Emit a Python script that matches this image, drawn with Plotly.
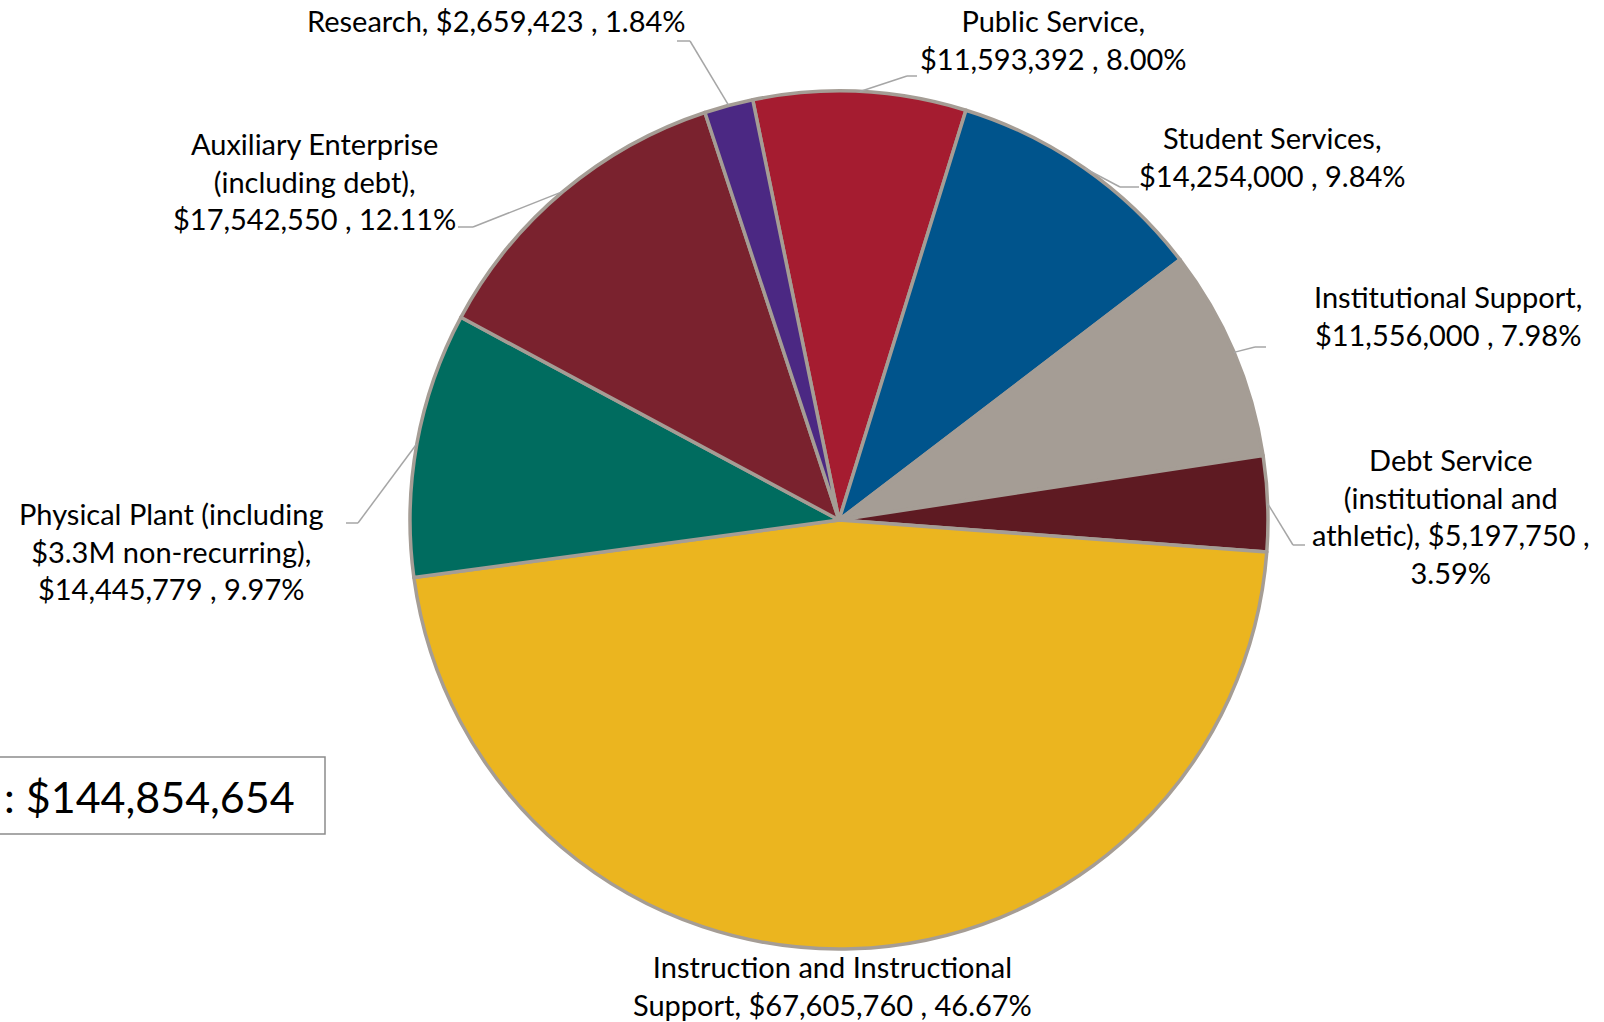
import math
import plotly.graph_objects as go

categories = [
    "Public Service",
    "Student Services",
    "Institutional Support",
    "Debt Service (institutional and athletic)",
    "Instruction and Instructional Support",
    "Physical Plant (including $3.3M non-recurring)",
    "Auxiliary Enterprise (including debt)",
    "Research",
]
values = [11593392, 14254000, 11556000, 5197750, 67605760, 14445779, 17542550, 2659423]
label_texts = [
    "Public Service,<br>$11,593,392 , 8.00%",
    "Student Services,<br>$14,254,000 , 9.84%",
    "Institutional Support,<br>$11,556,000 , 7.98%",
    "Debt Service<br>(institutional and<br>athletic), $5,197,750 ,<br>3.59%",
    "Instruction and Instructional<br>Support, $67,605,760 , 46.67%",
    "Physical Plant (including<br>$3.3M non-recurring),<br>$14,445,779 , 9.97%",
    "Auxiliary Enterprise<br>(including debt),<br>$17,542,550 , 12.11%",
    "Research, $2,659,423 , 1.84%",
]
colors = ["#A51C30", "#00548C", "#A59D95", "#5E1A22", "#EBB51F", "#006C5F", "#7A222E", "#4B2883"]
total_text = ": $144,854,654"

W, H = 1604, 1022
CX, CY, R = 839, 520, 429
ROT = -11.6

# label block centres and leader elbows/ends (pixels)
label_pos = [(1053, 39), (1272, 157), (1448, 315), (1451, 516), (832, 985), (171, 551), (314, 181), (496, 21)]
leaders = [
    [(907, 76), (917, 76)],
    [(1120, 187), (1139, 187)],
    [(1255, 347), (1266, 347)],
    [(1293, 545), (1305, 545)],
    None,
    [(358, 523), (346, 523)],
    [(473, 227), (458, 227)],
    [(690, 41), (677, 41)],
]

def px(x, y):
    return x / W, 1 - y / H

fig = go.Figure()
fig.add_trace(go.Pie(
    labels=categories, values=values, sort=False, direction="clockwise",
    rotation=ROT, textinfo="none", hoverinfo="label+value+percent",
    marker=dict(colors=colors, line=dict(color="#A59D95", width=3.5)),
    domain=dict(x=[(CX - R) / W, (CX + R) / W], y=[1 - (CY + R) / H, 1 - (CY - R) / H]),
    showlegend=False,
))

total = sum(values)
cum = 0.0
shapes = []
annotations = []
for i, v in enumerate(values):
    mid = ROT + (cum + v / 2) / total * 360
    cum += v
    a = math.radians(mid)
    sx, sy = CX + R * math.sin(a), CY - R * math.cos(a)
    if leaders[i]:
        pts = [(sx, sy)] + leaders[i]
        for (x0, y0), (x1, y1) in zip(pts[:-1], pts[1:]):
            X0, Y0 = px(x0, y0)
            X1, Y1 = px(x1, y1)
            shapes.append(dict(type="line", xref="paper", yref="paper", x0=X0, y0=Y0, x1=X1, y1=Y1,
                               line=dict(color="#A6A6A6", width=1.5)))
    lx, ly = px(*label_pos[i])
    annotations.append(dict(x=lx, y=ly, xref="paper", yref="paper", text=label_texts[i],
                            showarrow=False, xanchor="center", yanchor="middle", align="center",
                            font=dict(family="Lato", size=29, color="#000000")))

# total box
bx0, by0 = px(-5, 757)
bx1, by1 = px(325, 834)
shapes.append(dict(type="rect", xref="paper", yref="paper", x0=bx0, y0=by0, x1=bx1, y1=by1,
                   line=dict(color="#8C8C8C", width=1.5), fillcolor="white", layer="below"))
tx, ty = px(2, 796)
annotations.append(dict(x=tx, y=ty, xref="paper", yref="paper", text=total_text, showarrow=False,
                        xanchor="left", yanchor="middle", font=dict(family="Lato", size=43, color="#000000")))

fig.update_layout(
    width=W, height=H, margin=dict(l=0, r=0, t=0, b=0),
    paper_bgcolor="white", plot_bgcolor="white",
    shapes=shapes, annotations=annotations,
)
fig.write_html("out.html", config={"displayModeBar": False},
               post_script="document.body.style.margin='0';document.body.style.overflow='hidden';")
